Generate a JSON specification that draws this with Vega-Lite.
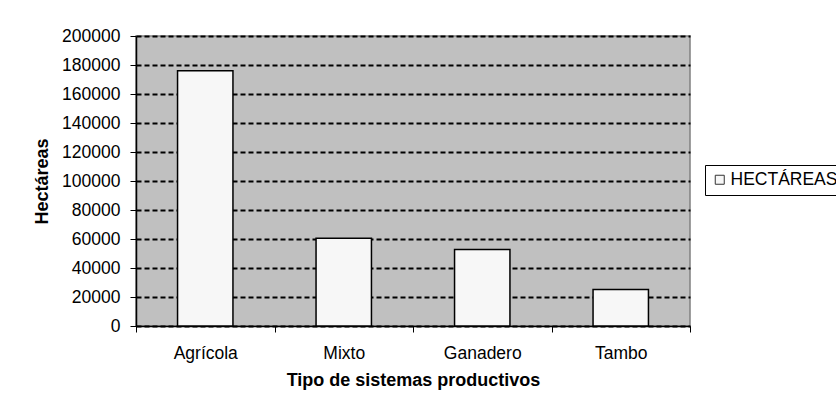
{
  "$schema": "https://vega.github.io/schema/vega-lite/v6.json",
  "autosize": "none",
  "width": 554,
  "height": 290,
  "padding": {"left": 136, "top": 36, "right": 146, "bottom": 89},
  "background": "white",
  "config": {
    "font": "Liberation Sans",
    "view": {"fill": "#c0c0c0", "stroke": "#808080", "strokeWidth": 1.5}
  },
  "data": {
    "values": [
      {"tipo": "Agrícola", "hectareas": 176000, "serie": "HECTÁREAS"},
      {"tipo": "Mixto", "hectareas": 60500, "serie": "HECTÁREAS"},
      {"tipo": "Ganadero", "hectareas": 52800, "serie": "HECTÁREAS"},
      {"tipo": "Tambo", "hectareas": 25200, "serie": "HECTÁREAS"}
    ]
  },
  "mark": {"type": "bar", "stroke": "black", "strokeWidth": 1.5, "width": {"band": 0.4}, "opacity": 1},
  "encoding": {
    "x": {
      "field": "tipo",
      "type": "nominal",
      "sort": null,
      "scale": {"paddingInner": 0, "paddingOuter": 0},
      "axis": {
        "tickBand": "extent",
        "tickSize": 6,
        "tickColor": "black",
        "domainColor": "black",
        "domainWidth": 1.5,
        "labelFontSize": 17.5,
        "labelColor": "black",
        "labelPadding": 12,
        "labelAngle": 0,
        "title": "Tipo de sistemas productivos",
        "titleFontSize": 18,
        "titleFontWeight": "bold",
        "titleColor": "black",
        "titlePadding": 10
      }
    },
    "y": {
      "field": "hectareas",
      "type": "quantitative",
      "scale": {"domain": [0, 200000], "nice": false},
      "axis": {
        "values": [0, 20000, 40000, 60000, 80000, 100000, 120000, 140000, 160000, 180000, 200000],
        "format": "d",
        "grid": true,
        "gridColor": "black",
        "gridDash": [5, 3],
        "gridWidth": 2,
        "domainColor": "black",
        "domainWidth": 1.5,
        "tickColor": "black",
        "tickSize": 6,
        "labelFontSize": 17.5,
        "labelColor": "black",
        "labelPadding": 10,
        "title": "Hectáreas",
        "titleFontSize": 18,
        "titleFontWeight": "bold",
        "titleColor": "black",
        "titlePadding": 10
      }
    },
    "color": {
      "field": "serie",
      "type": "nominal",
      "scale": {"range": ["#f7f7f7"]},
      "legend": {
        "orient": "none",
        "legendX": 569,
        "legendY": 129,
        "title": null,
        "strokeColor": "black",
        "fillColor": "white",
        "padding": 6,
        "symbolType": "square",
        "symbolSize": 81,
        "symbolStrokeColor": "#333333",
        "symbolStrokeWidth": 1,
        "symbolOpacity": 1,
        "labelFontSize": 17.5,
        "labelColor": "black",
        "labelOffset": 2
      }
    }
  }
}
